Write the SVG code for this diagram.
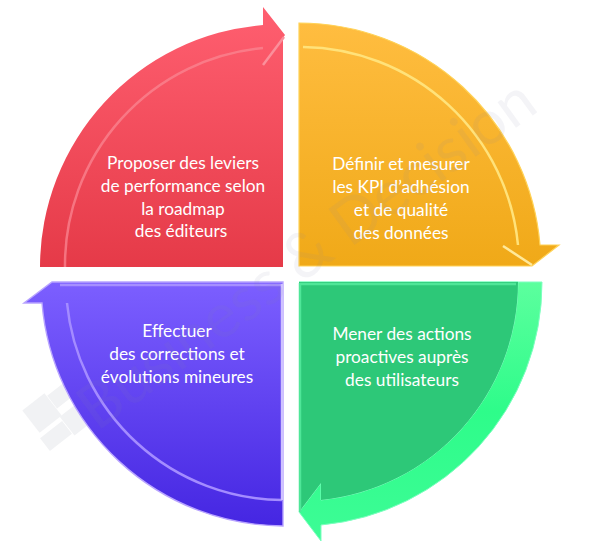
<svg xmlns="http://www.w3.org/2000/svg" width="597" height="553" viewBox="0 0 597 553">
<style>
text{font-family:"Lato","Liberation Sans",sans-serif;font-size:17.3px;fill:#fff;text-anchor:middle}
.wm{font-family:"Lato","Liberation Sans",sans-serif;font-size:62px;fill:#8a8aa8;fill-opacity:.09;text-anchor:start}
.sq{fill:#f1f2f4}
.line{fill:none;stroke-width:2.5}
</style>
<defs>
<linearGradient id="r" x1="0" y1="0" x2="0" y2="1"><stop offset="0" stop-color="#ff5f70"/><stop offset="1" stop-color="#e53a48"/></linearGradient>
<linearGradient id="o" x1="0" y1="0" x2="0" y2="1"><stop offset="0" stop-color="#ffbd40"/><stop offset="1" stop-color="#f0a918"/></linearGradient>
<linearGradient id="p" x1="0" y1="0" x2="0" y2="1"><stop offset="0" stop-color="#7c5fff"/><stop offset="1" stop-color="#4526e2"/></linearGradient>
<linearGradient id="g" x1="0" y1="0" x2="0" y2="1"><stop offset="0" stop-color="#5cff9e"/><stop offset=".5" stop-color="#2efc8a"/><stop offset="1" stop-color="#3dfc96"/></linearGradient>
</defs>
<g id="logo">
<rect class="sq" x="-14" y="-14" width="28" height="28" transform="translate(42 413) rotate(-38)"/>
<rect class="sq" x="-10" y="-8" width="20" height="16" transform="translate(60 396) rotate(-38)"/>
<rect class="sq" x="-10" y="-12" width="20" height="24" transform="translate(75 420) rotate(-38)"/>
<rect class="sq" x="-14" y="-8" width="28" height="16" transform="translate(56 436) rotate(-38)"/>
</g>
<g id="node-red">
<path d="M283 267H40A243 243 0 0 1 263 25V7L285 35L283 38V267Z" fill="url(#r)"/>
<path d="M65 267A218 218 0 0 1 263 48" class="line" stroke="#fa8592" stroke-opacity=".75"/>
<path d="M263 65L284 37" class="line" stroke="#fb8f9b" stroke-width="1.5"/>
<text x="183" y="169">Proposer des leviers</text>
<text x="183" y="192">de performance selon</text>
<text x="183" y="215">la roadmap</text>
<text x="181" y="237">des éditeurs</text>
</g>
<g id="node-orange">
<path d="M299 23A242 242 0 0 1 540 245H559L532 266H299Z" fill="url(#o)" stroke="#ffd257" stroke-width="1.2"/>
<path d="M303 47A219 219 0 0 1 518 245" class="line" stroke="#ffe27a"/>
<path d="M503 246L532 265" class="line" stroke="#ffe99a" stroke-width="3"/>
<text x="401" y="170">Définir et mesurer</text>
<text x="401" y="193">les KPI d’adhésion</text>
<text x="401" y="216">et de qualité</text>
<text x="401" y="239">des données</text>
</g>
<g id="node-purple">
<path d="M283 282H52L24 303H42A243 243 0 0 0 283 526Z" fill="url(#p)" stroke="#b8a4ff" stroke-width="1.4"/>
<path d="M67 303A218 218 0 0 0 282 500" class="line" stroke="#a48cff"/>
<path d="M60 285H282" class="line" stroke="#a68fff"/>
<path d="M282 284V500" class="line" stroke="#cfc2ff"/>
<text x="177" y="337">Effectuer</text>
<text x="177" y="360">des corrections et</text>
<text x="177" y="383">évolutions mineures</text>
</g>
<g id="node-green">
<path d="M299 282H542A243 243 0 0 1 321 525V541L299 512L321 483V500A219 219 0 0 0 518 282Z" fill="url(#g)" stroke="#7dffc0" stroke-width="1"/>
<path d="M299 282H518A219 219 0 0 1 321 500V483L299 512Z" fill="#2dc878"/>
<path d="M300 283V512" class="line" stroke="#4fe698"/>
<path d="M300 284H516" class="line" stroke="#4fe698"/>
<text x="402" y="340">Mener des actions</text>
<text x="402" y="363">proactives auprès</text>
<text x="402" y="386">des utilisateurs</text>
</g>
<g id="watermark">
<text class="wm" transform="translate(97 432) rotate(-36)">Business &amp; Decision</text>
</g>
</svg>
